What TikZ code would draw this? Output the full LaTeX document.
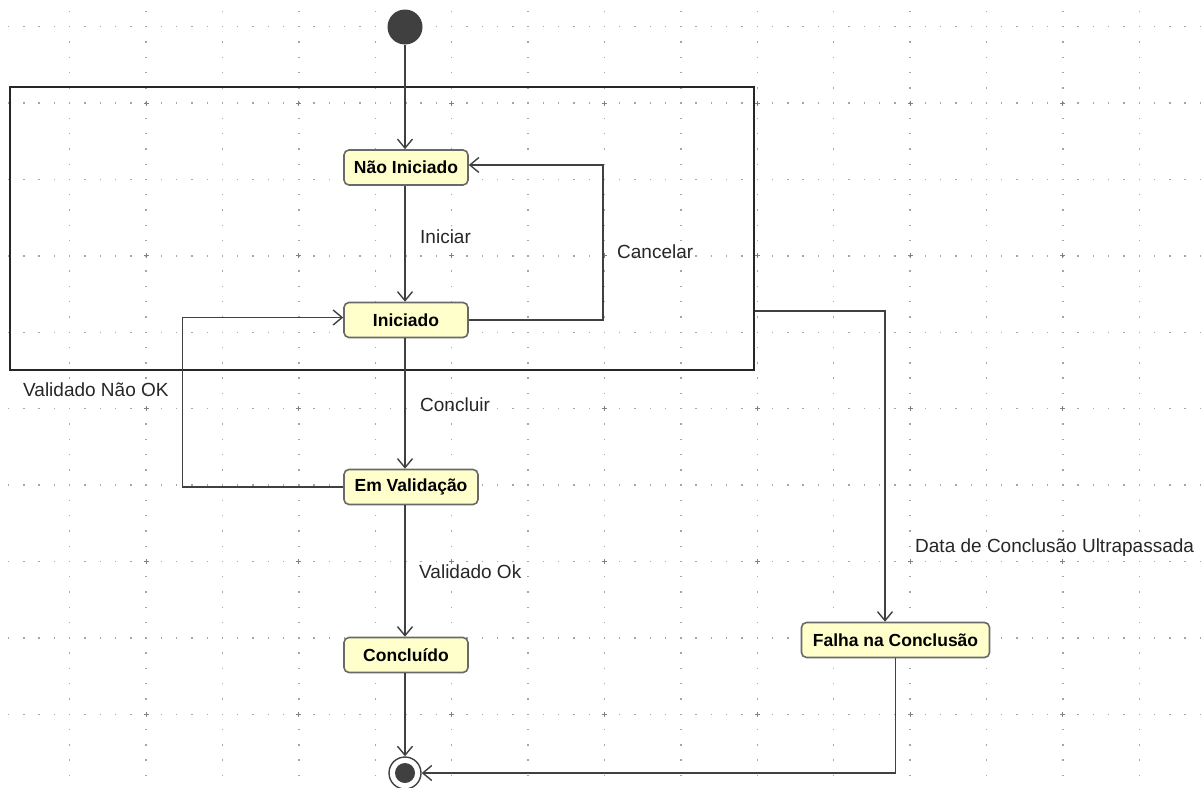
\documentclass[tikz,border=0pt]{standalone}
\usepackage{fontspec}
\setmainfont{Liberation Sans}
\usetikzlibrary{arrows.meta}
\definecolor{gridgrey}{RGB}{165,165,165}
\definecolor{crossgrey}{RGB}{130,130,130}
\definecolor{linegrey}{RGB}{64,64,64}
\definecolor{statefill}{RGB}{255,255,204}
\definecolor{stateborder}{RGB}{105,105,105}
\begin{document}
\begin{tikzpicture}[x=1pt,y=-1pt,
  state/.style={draw=stateborder, line width=1.6pt, fill=statefill, rounded corners=5pt,
    minimum height=35pt, inner sep=0pt, font=\fontsize{17.5}{20}\selectfont\bfseries},
  conn/.style={draw=linegrey, line width=1.4pt,
    -{Straight Barb[length=9pt,width=15pt,line width=1.4pt]}},
  lbl/.style={anchor=west, inner sep=0pt, font=\fontsize{19}{22}\selectfont, text=black!85},
  dot/.style={fill=gridgrey}]
\useasboundingbox (0,0) rectangle (1204,787);

% dotted background grid: rows and columns of dots
\foreach \r in {0,...,9} {
  \pgfmathsetmacro\yy{26.7+76.4*\r}
  \foreach \k in {0,...,79} {
    \fill[dot] ({-6.7+15.28*\k-0.7},{\yy-0.7}) rectangle ++(1.4,1.4);
  }
}
\foreach \c in {0,...,15} {
  \pgfmathsetmacro\xx{-6.7+76.4*\c}
  \foreach \k in {0,...,52} {
    \fill[dot] ({\xx-0.7},{-3.86+15.28*\k-0.7}) rectangle ++(1.4,1.4);
  }
}
% small crosses on every second grid crossing
\foreach \i in {0,...,8} {
  \foreach \j in {0,...,4} {
    \pgfmathsetmacro\cx{-6.7+152.8*\i}
    \pgfmathsetmacro\cy{103.1+152.8*\j}
    \draw[crossgrey, line width=1pt] ({\cx-2.5},\cy) -- ({\cx+2.5},\cy)
      (\cx,{\cy-2.5}) -- (\cx,{\cy+2.5});
  }
}

% composite region
\node (region) [draw=black!85, line width=1.4pt, minimum width=744pt, minimum height=283pt,
  inner sep=0pt] at (382,228.5) {};

% initial and final pseudo-states
\node (start) [circle, fill=linegrey, minimum size=35pt, inner sep=0pt] at (405,27) {};
\node (fin) [circle, draw=linegrey, line width=1.4pt, fill=white, minimum size=32pt,
  inner sep=0pt] at (405,773) {};
\fill[linegrey] (fin.center) circle (10);

% states
\node (nao) [state, minimum width=124pt] at (406,167.5) {Não Iniciado};
\node (ini) [state, minimum width=124pt] at (406,320) {Iniciado};
\node (emv) [state, minimum width=134pt] at (411,487) {Em Validação};
\node (con) [state, minimum width=124pt] at (406,655) {Concluído};
\node (fal) [state, minimum width=188pt] at (895.5,640) {Falha na Conclusão};

% transitions
\draw[conn] (start) -- (nao.north -| start);
\draw[conn] (nao.south -| start) -- (ini.north -| start);
\draw[conn] (ini.south -| start) -- (emv.north -| start);
\draw[conn] (emv.south -| start) -- (con.north -| start);
\draw[conn] (con.south -| start) -- (fin.north);
\draw[conn] (ini.east) -- ++(134,0) |- ([yshift=2.5pt]nao.east);
\draw[conn] (emv.west) -- ++(-161,0) |- ([yshift=2.5pt]ini.west);
\draw[conn] ([yshift=-82.5pt]region.east) -| ([xshift=-10.5pt]fal.north);
\draw[conn] (fal.south) |- (fin.east);

% transition labels
\node[lbl] (lIniciar) at (420,237) {Iniciar};
\node[lbl] (lCancelar) at (617,252) {Cancelar};
\node[lbl] (lNaoOk) at (23,390) {Validado Não OK};
\node[lbl] (lConcluir) at (420,405) {Concluir};
\node[lbl] (lOk) at (419,572) {Validado Ok};
\node[lbl] (lData) at (915,548) {Data de Conclusão Ultrapassada};
\end{tikzpicture}
\end{document}
